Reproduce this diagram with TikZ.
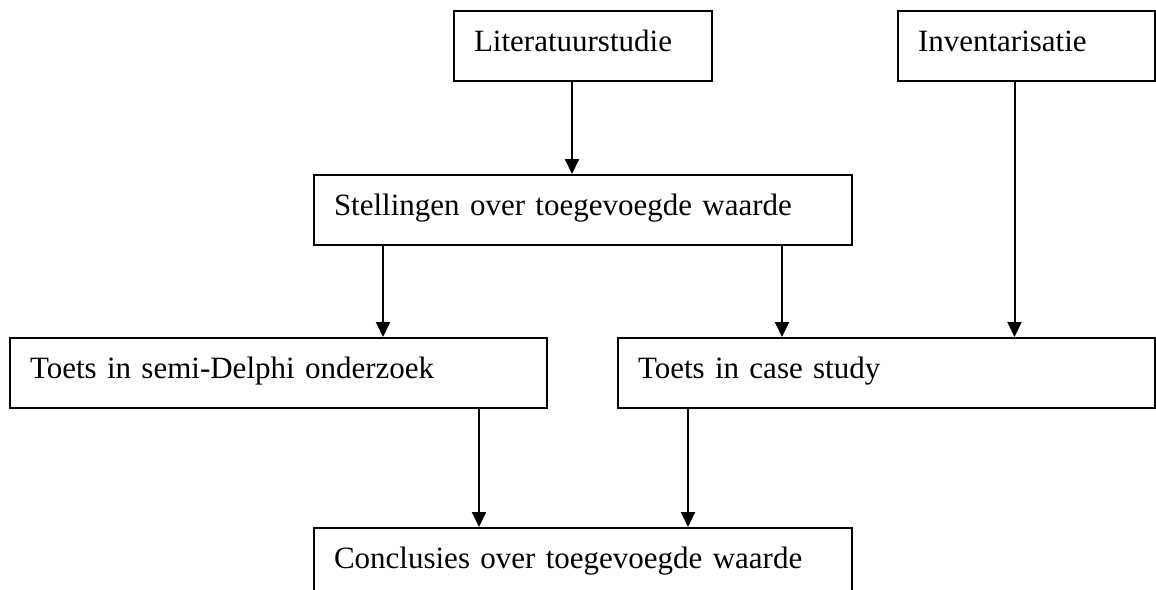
\documentclass[tikz,border=0pt]{standalone}
\usepackage{fontspec}
\setmainfont{Liberation Serif}
\usetikzlibrary{arrows.meta}
\begin{document}
\begin{tikzpicture}[x=0.5pt, y=-0.5pt,
    box/.style={draw, line width=1pt, rectangle, anchor=north west, align=left,
        inner xsep=10pt, inner ysep=0pt, text height=20pt, text depth=15pt,
        font=\fontsize{15.5}{18}\selectfont},
    arrow/.style={-{Triangle[length=7.5pt,width=7pt]}, line width=1pt}]
    \useasboundingbox (0,0) rectangle (1156,589);

    % Draw nodes
    \node[box, text width=109pt] (lit) at (453,10) {Literatuurstudie};
    \node[box, text width=108.5pt] (inv) at (897,10) {Inventarisatie};
    \node[box, text width=249pt] (stel) at (313,174) {Stellingen over toegevoegde waarde};
    \node[box, text width=248.5pt] (delphi) at (9,337) {Toets in semi-Delphi onderzoek};
    \node[box, text width=248.5pt] (case) at (617,337) {Toets in case study};
    \node[box, text width=249pt] (concl) at (313,527) {Conclusies over toegevoegde waarde};

    % Draw edges (directed)
    \draw[arrow] ([xshift=-5.5pt]lit.south) -- ([xshift=-5.5pt]lit.south |- stel.north); % Literatuurstudie to Stellingen
    \draw[arrow] ([xshift=-6pt]inv.south) -- ([xshift=-6pt]inv.south |- case.north); % Inventarisatie to case study
    \draw[arrow] ([xshift=35pt]stel.south west) -- ([xshift=35pt]stel.south west |- delphi.north); % Stellingen to semi-Delphi
    \draw[arrow] ([xshift=-35.5pt]stel.south east) -- ([xshift=-35.5pt]stel.south east |- case.north); % Stellingen to case study
    \draw[arrow] ([xshift=-34.5pt]delphi.south east) -- ([xshift=-34.5pt]delphi.south east |- concl.north); % semi-Delphi to Conclusies
    \draw[arrow] ([xshift=35.5pt]case.south west) -- ([xshift=35.5pt]case.south west |- concl.north); % case study to Conclusies
\end{tikzpicture}
\end{document}
